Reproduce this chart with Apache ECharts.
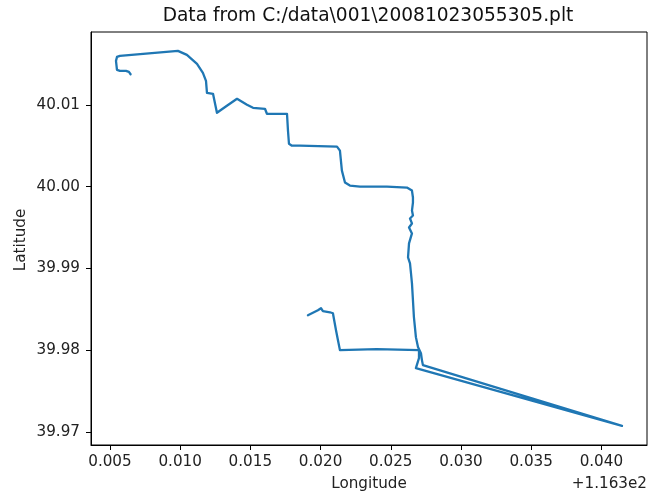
<!DOCTYPE html>
<html>
<head>
<meta charset="utf-8">
<script src="https://cdn.jsdelivr.net/npm/echarts@6/dist/echarts.min.js"></script>
<style>
    html, body { margin: 0; padding: 0; background: #fff; }
    #main { width: 655px; height: 492px; }
</style>
</head>
<body>
<div id="main"></div>
<script>
// 经度：减去偏移量 116.3 之后的值
var lonOffsetText = '+1.163e2';
var lons = [
    0.00647, 0.00645, 0.00635, 0.00614, 0.00571, 0.00550, 0.00543, 0.00550, 0.00571,
    0.00984, 0.01048, 0.01120, 0.01162, 0.01184, 0.01191, 0.01234, 0.01248,
    0.01262, 0.01333, 0.01405, 0.01476, 0.01519, 0.01604, 0.01618, 0.01661,
    0.01761, 0.01768, 0.01775, 0.01796, 0.01853, 0.02117, 0.02138, 0.02152,
    0.02174, 0.02209, 0.02281, 0.02473, 0.02615, 0.02651, 0.02658, 0.02658,
    0.02651, 0.02658, 0.02637, 0.02651, 0.02630, 0.02651, 0.02630, 0.02623,
    0.02637, 0.02644, 0.02651, 0.02658, 0.02665, 0.02672, 0.02679, 0.02694, 0.02715, 0.02722,
    0.02729, 0.04147, 0.02679, 0.02701, 0.02701, 0.02400, 0.02138, 0.02124,
    0.02110, 0.02088, 0.02067, 0.02017, 0.02003, 0.01981, 0.01910
];
var lats = [
    40.01374, 40.01395, 40.01402, 40.01415, 40.01415, 40.01427, 40.01537, 40.01585, 40.01598,
    40.01659, 40.01610, 40.01500, 40.01390, 40.01293, 40.01146, 40.01134, 40.01110,
    40.00902, 40.00988, 40.01073, 40.01000, 40.00963, 40.00951, 40.00890, 40.00890,
    40.00890, 40.00683, 40.00524, 40.00500, 40.00500, 40.00488, 40.00439, 40.00195,
    40.00049, 40.00012, 40.00000, 40.00000, 39.99988, 39.99951, 39.99866, 39.99805,
    39.99707, 39.99646, 39.99610, 39.99549, 39.99500, 39.99427, 39.99305, 39.99134,
    39.99061, 39.98940, 39.98817, 39.98610, 39.98402, 39.98280, 39.98159, 39.98037, 39.97963, 39.97878,
    39.97817, 39.97073, 39.97780, 39.97902, 39.98000, 39.98012, 39.98000, 39.98122,
    39.98244, 39.98451, 39.98463, 39.98476, 39.98512, 39.98488, 39.98427
];
var xTicks = [0.005, 0.010, 0.015, 0.020, 0.025, 0.030, 0.035, 0.040];
var yTicks = [39.97, 39.98, 39.99, 40.00, 40.01];

var font = 'DejaVu Sans';
var points = [];
for (var i = 0; i < lons.length; i++) {
    points.push([lons[i], lats[i]]);
}

var myChart = echarts.init(document.getElementById('main'));
var option = {
    animation: false,
    grid: {
        left: 91, top: 32, right: 8, bottom: 47,
        show: true,
        borderColor: '#000',
        borderWidth: 1
    },
    xAxis: {
        type: 'value',
        min: 0.00365,
        max: 0.04325,
        splitLine: { show: false },
        axisLine: { show: true, onZero: false, lineStyle: { color: '#000', width: 1 } },
        axisTick: { show: true, length: 5, customValues: xTicks, lineStyle: { color: '#000' } },
        axisLabel: {
            customValues: xTicks,
            margin: 10,
            color: '#222',
            fontFamily: font,
            fontSize: 15.2,
            formatter: function (v) { return v.toFixed(3); }
        }
    },
    yAxis: {
        type: 'value',
        min: 39.9684,
        max: 40.0189,
        splitLine: { show: false },
        axisLine: { show: true, onZero: false, lineStyle: { color: '#000', width: 1 } },
        axisTick: { show: true, length: 5, customValues: yTicks, lineStyle: { color: '#000' } },
        axisLabel: {
            customValues: yTicks,
            margin: 11,
            color: '#222',
            fontFamily: font,
            fontSize: 15.2,
            formatter: function (v) { return v.toFixed(2); }
        }
    },
    series: [{
        type: 'line',
        data: points,
        showSymbol: false,
        lineStyle: { color: '#1f77b4', width: 2.3, cap: 'round', join: 'round' },
        silent: true
    }],
    graphic: [
        {
            type: 'text', x: 368, y: 16,
            style: {
                text: 'Data from C:/data\\001\\20081023055305.plt',
                font: '18.6px "DejaVu Sans"', fill: '#111',
                textAlign: 'center', textVerticalAlign: 'middle'
            }
        },
        {
            type: 'text', x: 369, y: 484,
            style: {
                text: 'Longitude', font: '15.2px "DejaVu Sans"', fill: '#222',
                textAlign: 'center', textVerticalAlign: 'middle'
            }
        },
        {
            type: 'text', x: 647, y: 484,
            style: {
                text: lonOffsetText, font: '15.2px "DejaVu Sans"', fill: '#222',
                textAlign: 'right', textVerticalAlign: 'middle'
            }
        },
        {
            type: 'text', x: 21, y: 240, rotation: Math.PI / 2,
            style: {
                text: 'Latitude', font: '15.2px "DejaVu Sans"', fill: '#222',
                textAlign: 'center', textVerticalAlign: 'middle'
            }
        }
    ]
};
myChart.setOption(option);
</script>
</body>
</html>
